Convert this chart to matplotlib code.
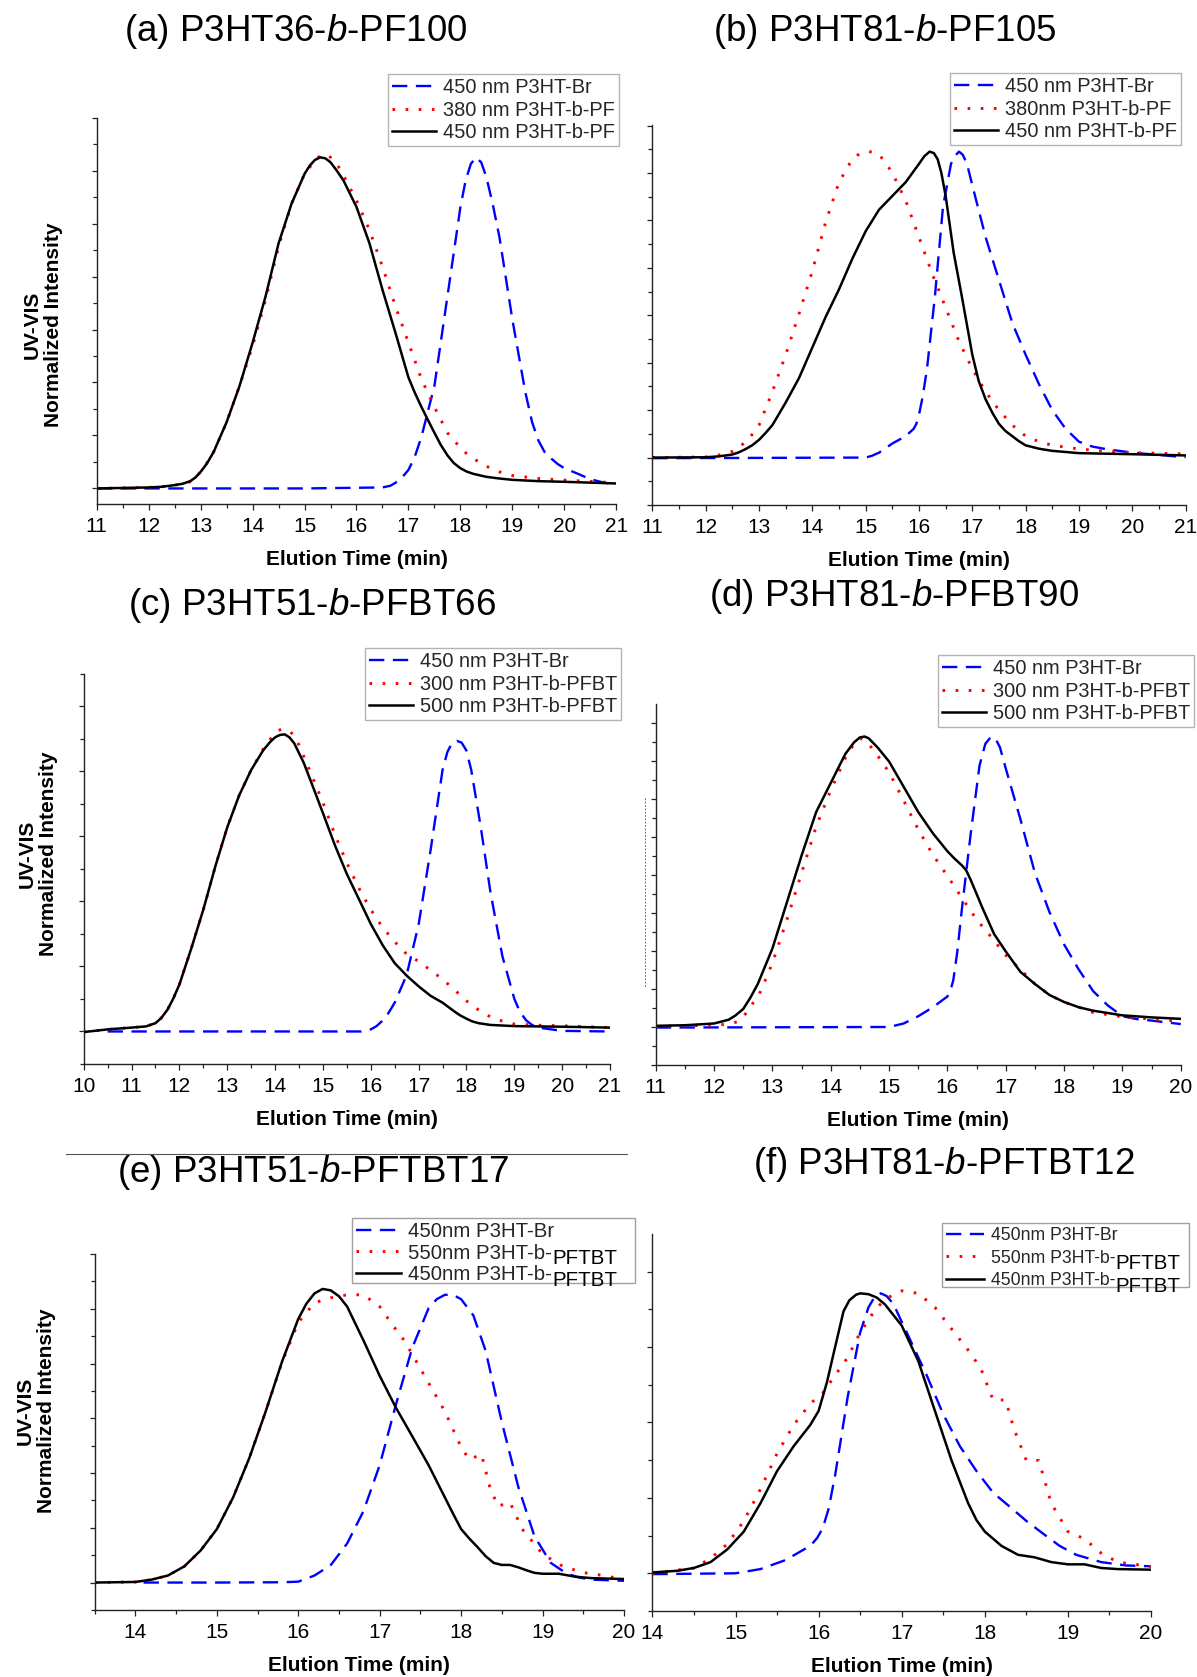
import matplotlib
matplotlib.use("Agg")
import matplotlib.pyplot as plt
from matplotlib.ticker import MultipleLocator, NullFormatter
from matplotlib.lines import Line2D
from matplotlib.patches import Rectangle

plt.rcParams['font.family'] = ['Liberation Sans', 'DejaVu Sans']
plt.rcParams['mathtext.fontset'] = 'custom'
plt.rcParams['mathtext.rm'] = 'Liberation Sans'
plt.rcParams['mathtext.it'] = 'Liberation Sans:italic'

# ---------------- (a) P3HT36-b-PF100 ----------------
a_br_t = [11, 12, 13, 14, 15, 16, 16.5, 16.65, 16.75, 16.87, 17.0, 17.12, 17.25, 17.5, 17.75,
          18.0, 18.1, 18.2, 18.3, 18.4, 18.5, 18.62, 18.75, 19.0, 19.25, 19.38, 19.5, 19.62,
          19.75, 19.87, 20.0, 20.25, 20.5, 20.75, 21]
a_br_i = [0, 0, 0, 0, 0, 0.002, 0.003, 0.008, 0.017, 0.032, 0.056, 0.095, 0.156, 0.31, 0.58,
          0.85, 0.93, 0.98, 1.0, 0.985, 0.94, 0.86, 0.76, 0.51, 0.29, 0.20, 0.145, 0.11, 0.09,
          0.074, 0.061, 0.045, 0.028, 0.018, 0.011]
a_pf380_t = [11, 12, 12.25, 12.5, 12.65, 12.8, 12.9, 13.0, 13.12, 13.25, 13.5, 13.75, 14.0,
             14.25, 14.5, 14.75, 15.0, 15.2, 15.3, 15.4, 15.5, 15.6, 15.7, 15.8, 16.0, 16.25,
             16.5, 16.75, 17.0, 17.25, 17.5, 17.75, 18.0, 18.12, 18.25, 18.5, 18.75, 19.0, 19.5,
             20.0, 21]
a_pf380_i = [0, 0.003, 0.005, 0.01, 0.014, 0.02, 0.032, 0.05, 0.077, 0.11, 0.20, 0.31, 0.43,
             0.57, 0.73, 0.86, 0.95, 0.99, 1.005, 1.01, 1.0, 0.985, 0.96, 0.93, 0.87, 0.78, 0.67,
             0.55, 0.44, 0.33, 0.246, 0.168, 0.123, 0.105, 0.09, 0.067, 0.05, 0.039, 0.03, 0.025,
             0.017]
a_pf450_t = [11, 12, 12.25, 12.5, 12.65, 12.8, 12.9, 13.0, 13.12, 13.25, 13.5, 13.75, 14.0,
             14.25, 14.5, 14.75, 15.0, 15.1, 15.2, 15.3, 15.4, 15.5, 15.62, 15.75, 16.0, 16.25,
             16.5, 16.75, 17.0, 17.12, 17.25, 17.38, 17.5, 17.62, 17.75, 17.87, 18.0, 18.12,
             18.25, 18.5, 18.75, 19.0, 19.5, 20.0, 21]
a_pf450_i = [0, 0.003, 0.005, 0.01, 0.014, 0.022, 0.033, 0.05, 0.075, 0.11, 0.20, 0.31, 0.44,
             0.58, 0.74, 0.86, 0.95, 0.975, 0.992, 1.0, 0.997, 0.985, 0.96, 0.93, 0.85, 0.74,
             0.60, 0.47, 0.335, 0.29, 0.246, 0.205, 0.168, 0.132, 0.10, 0.077, 0.061, 0.051,
             0.044, 0.035, 0.03, 0.026, 0.022, 0.02, 0.015]

# ---------------- (b) P3HT81-b-PF105 ----------------
b_br_t = [11, 13, 15.0, 15.12, 15.25, 15.5, 15.75, 15.9, 15.95, 16.0, 16.07, 16.15, 16.3,
          16.45, 16.6, 16.67, 16.75, 16.82, 16.9, 17.0, 17.25, 17.5, 17.75, 18.0, 18.25, 18.5,
          18.75, 19.0, 19.25, 19.5, 20.0, 21]
b_br_i = [-0.002, -0.001, 0, 0.006, 0.016, 0.046, 0.07, 0.094, 0.11, 0.14, 0.20, 0.29, 0.53,
          0.82, 0.96, 0.985, 1.0, 0.99, 0.96, 0.89, 0.72, 0.58, 0.44, 0.336, 0.24, 0.155,
          0.094, 0.052, 0.036, 0.028, 0.016, 0.001]
b_pf380_t = [11, 12.0, 12.25, 12.5, 12.62, 12.75, 12.87, 13.0, 13.25, 13.5, 13.75, 14.0, 14.25,
             14.5, 14.75, 14.9, 15.05, 15.15, 15.25, 15.37, 15.5, 15.75, 16.0, 16.25, 16.5,
             16.75, 17.0, 17.25, 17.5, 17.75, 18.0, 18.25, 18.5, 19.0, 19.5, 20.0, 21]
b_pf380_i = [0, 0.002, 0.008, 0.02, 0.033, 0.052, 0.075, 0.106, 0.215, 0.336, 0.47, 0.61, 0.77,
             0.90, 0.976, 0.995, 1.0, 0.998, 0.99, 0.965, 0.93, 0.84, 0.72, 0.60, 0.49, 0.38,
             0.29, 0.215, 0.155, 0.106, 0.07, 0.052, 0.04, 0.028, 0.021, 0.016, 0.012]
b_pf450_t = [11, 12.0, 12.25, 12.5, 12.62, 12.75, 12.87, 13.0, 13.12, 13.25, 13.5, 13.75, 14.0,
             14.25, 14.5, 14.75, 15.0, 15.25, 15.5, 15.75, 16.0, 16.1, 16.2, 16.28, 16.35, 16.42,
             16.5, 16.65, 16.8, 17.0, 17.12, 17.25, 17.38, 17.5, 17.62, 17.75, 17.87, 18.0,
             18.25, 18.5, 19.0, 20.0, 21]
b_pf450_i = [0, 0.001, 0.004, 0.01, 0.017, 0.028, 0.04, 0.058, 0.08, 0.106, 0.18, 0.26, 0.36,
             0.46, 0.55, 0.65, 0.74, 0.81, 0.855, 0.90, 0.96, 0.985, 1.0, 0.995, 0.975, 0.93,
             0.855, 0.67, 0.53, 0.336, 0.25, 0.19, 0.145, 0.11, 0.087, 0.07, 0.054, 0.04, 0.029,
             0.022, 0.0145, 0.011, 0.007]

# ---------------- (c) P3HT51-b-PFBT66 ----------------
c_br_t = [10.5, 12, 14, 15.8, 16.0, 16.12, 16.25, 16.37, 16.5, 16.75, 17.0, 17.25, 17.5, 17.6,
          17.7, 17.8, 17.9, 18.0, 18.1, 18.3, 18.5, 18.75, 19.0, 19.12, 19.25, 19.37, 19.5,
          20.0, 21]
c_br_i = [0, 0, 0, 0, 0.007, 0.018, 0.037, 0.062, 0.097, 0.19, 0.36, 0.61, 0.88, 0.94, 0.972,
          0.978, 0.972, 0.945, 0.88, 0.687, 0.47, 0.254, 0.11, 0.065, 0.037, 0.022, 0.013,
          0.002, 0]
c_pf300_t = [10.0, 10.5, 11.0, 11.3, 11.5, 11.62, 11.75, 11.87, 12.0, 12.25, 12.5, 12.75, 13.0,
             13.25, 13.5, 13.75, 13.95, 14.05, 14.15, 14.3, 14.4, 14.5, 14.75, 15.0, 15.25, 15.5,
             15.75, 16.0, 16.25, 16.5, 16.75, 17.0, 17.25, 17.5, 17.75, 18.0, 18.25, 18.5,
             18.75, 19.0, 19.5, 20.0, 21]
c_pf300_i = [-0.002, 0.007, 0.013, 0.017, 0.028, 0.045, 0.073, 0.11, 0.158, 0.28, 0.41, 0.555,
             0.687, 0.795, 0.88, 0.95, 0.995, 1.012, 1.018, 1.012, 0.995, 0.964, 0.868, 0.771,
             0.663, 0.567, 0.483, 0.41, 0.35, 0.302, 0.26, 0.236, 0.206, 0.176, 0.14, 0.103,
             0.073, 0.049, 0.035, 0.025, 0.021, 0.019, 0.013]
c_pf500_t = [10.0, 10.5, 11.0, 11.3, 11.5, 11.62, 11.75, 11.87, 12.0, 12.25, 12.5, 12.75, 13.0,
             13.25, 13.5, 13.75, 13.9, 14.0, 14.1, 14.2, 14.3, 14.4, 14.6, 14.8, 15.0, 15.25,
             15.5, 15.75, 16.0, 16.25, 16.5, 16.75, 17.0, 17.25, 17.5, 17.75, 17.87, 18.0, 18.12,
             18.25, 18.5, 19.0, 20.0, 21]
c_pf500_i = [-0.002, 0.007, 0.013, 0.017, 0.028, 0.045, 0.073, 0.11, 0.158, 0.28, 0.41, 0.555,
             0.687, 0.795, 0.88, 0.946, 0.975, 0.99, 0.998, 1.0, 0.99, 0.97, 0.904, 0.82, 0.735,
             0.627, 0.53, 0.446, 0.362, 0.29, 0.23, 0.188, 0.152, 0.12, 0.097, 0.067, 0.054,
             0.043, 0.034, 0.028, 0.022, 0.018, 0.016, 0.013]

# ---------------- (d) P3HT81-b-PFBT90 ----------------
d_br_t = [11, 13, 15.0, 15.25, 15.5, 15.75, 16.0, 16.05, 16.1, 16.17, 16.25, 16.4, 16.55, 16.65,
          16.75, 16.83, 16.9, 17.0, 17.25, 17.5, 17.75, 18.0, 18.25, 18.5, 18.75, 19.0, 19.25,
          19.5, 20]
d_br_i = [-0.002, -0.001, 0, 0.012, 0.037, 0.068, 0.105, 0.125, 0.16, 0.26, 0.41, 0.667, 0.9,
          0.975, 1.0, 0.99, 0.963, 0.89, 0.716, 0.53, 0.395, 0.284, 0.198, 0.123, 0.074, 0.037,
          0.027, 0.022, 0.01]
d_pf300_t = [11, 12.0, 12.25, 12.4, 12.5, 12.6, 12.8, 13.0, 13.25, 13.5, 13.75, 14.0, 14.25,
             14.4, 14.5, 14.6, 14.75, 15.0, 15.25, 15.5, 15.75, 16.0, 16.25, 16.5, 16.75, 17.0,
             17.25, 17.5, 17.75, 18.0, 18.5, 19.0, 20]
d_pf300_i = [0.002, 0.006, 0.01, 0.018, 0.035, 0.062, 0.123, 0.22, 0.37, 0.53, 0.69, 0.815,
             0.926, 0.975, 0.994, 0.985, 0.95, 0.877, 0.78, 0.68, 0.593, 0.52, 0.444, 0.37, 0.31,
             0.247, 0.198, 0.148, 0.11, 0.086, 0.05, 0.035, 0.019]
d_pf500_t = [11, 11.5, 12.0, 12.25, 12.37, 12.5, 12.62, 12.75, 13.0, 13.25, 13.5, 13.75, 14.0,
             14.25, 14.4, 14.5, 14.58, 14.65, 14.8, 15.0, 15.25, 15.5, 15.75, 16.0, 16.12, 16.25,
             16.32, 16.4, 16.6, 16.8, 17.0, 17.25, 17.5, 17.75, 18.0, 18.25, 18.5, 19.0, 19.5, 20]
d_pf500_i = [0.004, 0.006, 0.012, 0.025, 0.04, 0.062, 0.1, 0.148, 0.27, 0.43, 0.59, 0.74, 0.84,
             0.94, 0.98, 0.997, 1.0, 0.994, 0.963, 0.914, 0.827, 0.74, 0.667, 0.605, 0.58,
             0.556, 0.54, 0.506, 0.41, 0.32, 0.26, 0.19, 0.148, 0.11, 0.086, 0.068, 0.056, 0.04,
             0.033, 0.028]

# ---------------- (e) P3HT51-b-PFTBT17 ----------------
e_br_t = [14.1, 15.0, 15.8, 16.0, 16.2, 16.4, 16.6, 16.8, 17.0, 17.2, 17.4, 17.6, 17.7, 17.8,
          17.9, 18.0, 18.15, 18.3, 18.5, 18.7, 18.9, 19.1, 19.3, 19.45, 19.6, 20]
e_br_i = [0, 0, 0.001, 0.003, 0.024, 0.06, 0.133, 0.243, 0.40, 0.607, 0.80, 0.934, 0.965, 0.98,
          0.98, 0.965, 0.91, 0.79, 0.546, 0.328, 0.158, 0.067, 0.03, 0.017, 0.01, 0.006]
e_pf550_t = [13.5, 14.0, 14.2, 14.4, 14.6, 14.8, 15.0, 15.2, 15.4, 15.6, 15.8, 16.0, 16.2, 16.4,
             16.6, 16.8, 17.0, 17.15, 17.3, 17.4, 17.6, 17.8, 18.0, 18.1, 18.25, 18.35, 18.45,
             18.6, 18.75, 19.0, 19.25, 19.5, 19.75, 20]
e_pf550_i = [0, 0.002, 0.01, 0.024, 0.055, 0.109, 0.182, 0.29, 0.425, 0.583, 0.75, 0.886, 0.953,
             0.97, 0.98, 0.98, 0.94, 0.88, 0.825, 0.777, 0.68, 0.583, 0.461, 0.419, 0.437, 0.328,
             0.26, 0.273, 0.182, 0.097, 0.055, 0.034, 0.024, 0.01]
e_pf450_t = [13.5, 14.0, 14.2, 14.4, 14.6, 14.8, 15.0, 15.2, 15.4, 15.6, 15.8, 16.0, 16.1, 16.2,
             16.3, 16.4, 16.5, 16.6, 16.8, 17.0, 17.2, 17.4, 17.6, 17.8, 17.9, 18.0, 18.1, 18.2,
             18.3, 18.4, 18.5, 18.6, 18.7, 18.8, 18.9, 19.0, 19.2, 19.4, 19.6, 20]
e_pf450_i = [0, 0.002, 0.01, 0.024, 0.055, 0.109, 0.182, 0.29, 0.425, 0.583, 0.752, 0.898,
             0.95, 0.985, 1.0, 0.995, 0.975, 0.94, 0.825, 0.704, 0.595, 0.498, 0.40, 0.29, 0.235,
             0.182, 0.15, 0.121, 0.09, 0.067, 0.06, 0.06, 0.052, 0.042, 0.033, 0.03, 0.03,
             0.02, 0.015, 0.012]

# ---------------- (f) P3HT81-b-PFTBT12 ----------------
f_br_t = [14.0, 15.0, 15.3, 15.6, 15.9, 15.98, 16.05, 16.12, 16.2, 16.35, 16.5, 16.6, 16.68,
          16.75, 16.82, 16.9, 17.1, 17.3, 17.5, 17.7, 17.9, 18.1, 18.3, 18.5, 18.7, 18.9, 19.1,
          19.4, 19.7, 20]
f_br_i = [-0.003, 0, 0.015, 0.047, 0.098, 0.125, 0.161, 0.23, 0.352, 0.63, 0.86, 0.95, 0.99,
          1.0, 0.99, 0.962, 0.835, 0.708, 0.568, 0.454, 0.365, 0.288, 0.238, 0.187, 0.142,
          0.098, 0.066, 0.04, 0.028, 0.025]
f_pf550_t = [14.0, 14.5, 14.7, 14.9, 15.1, 15.3, 15.5, 15.7, 15.9, 16.05, 16.2, 16.35, 16.5,
             16.7, 16.85, 17.0, 17.2, 17.4, 17.6, 17.8, 17.95, 18.1, 18.25, 18.35, 18.5, 18.65,
             18.8, 19.0, 19.2, 19.4, 19.6, 20]
f_pf550_i = [0, 0.019, 0.053, 0.104, 0.187, 0.30, 0.428, 0.53, 0.606, 0.644, 0.708, 0.771,
             0.86, 0.95, 0.987, 1.009, 1.0, 0.95, 0.873, 0.797, 0.733, 0.619, 0.619, 0.517,
             0.403, 0.403, 0.25, 0.149, 0.123, 0.072, 0.04, 0.024]
f_pf450_t = [14.0, 14.3, 14.5, 14.7, 14.9, 15.1, 15.3, 15.5, 15.7, 15.9, 16.0, 16.1, 16.2, 16.3,
             16.37, 16.45, 16.5, 16.6, 16.7, 16.8, 17.0, 17.2, 17.4, 17.6, 17.8, 17.9, 18.0,
             18.2, 18.4, 18.6, 18.8, 19.0, 19.2, 19.4, 19.6, 20]
f_pf450_i = [0.003, 0.009, 0.019, 0.04, 0.085, 0.149, 0.25, 0.365, 0.454, 0.53, 0.58, 0.682,
             0.81, 0.936, 0.975, 0.995, 1.0, 0.997, 0.985, 0.96, 0.885, 0.758, 0.58, 0.403,
             0.25, 0.19, 0.149, 0.098, 0.066, 0.057, 0.04, 0.032, 0.032, 0.019, 0.015, 0.013]

titles = [r"(a) P3HT36-$\mathit{b}$-PF100", r"(b) P3HT81-$\mathit{b}$-PF105",
          r"(c) P3HT51-$\mathit{b}$-PFBT66", r"(d) P3HT81-$\mathit{b}$-PFBT90",
          r"(e) P3HT51-$\mathit{b}$-PFTBT17", r"(f) P3HT81-$\mathit{b}$-PFTBT12"]
labels_a = ["450 nm P3HT-Br", "380 nm P3HT-b-PF", "450 nm P3HT-b-PF"]
labels_b = ["450 nm P3HT-Br", "380nm P3HT-b-PF", "450 nm P3HT-b-PF"]
labels_cd = ["450 nm P3HT-Br", "300 nm P3HT-b-PFBT", "500 nm P3HT-b-PFBT"]
labels_ef = ["450nm P3HT-Br", "550nm P3HT-b-", "450nm P3HT-b-"]
suffix_ef = ["", "PFTBT", "PFTBT"]
x_label = "Elution Time (min)"
y_label = "UV-VIS\nNormalized Intensity"

W, H = 1197, 1677
fig = plt.figure(figsize=(W / 100, H / 100), dpi=100)


def px_axes(left, top, right, bottom):
    return fig.add_axes([left / W, 1 - bottom / H, (right - left) / W, (bottom - top) / H])


BLUE, RED, BLACK = "#0000ff", "#ff0000", "#000000"
LEG_EDGE = "#a0a0a0"


def panel(ax, series, labels, xlim, xticks, ylim, ymajor, legend_xy, ylabel_xy=None,
          leg_size=14.4, leg_space=0.18, frame=True):
    (t1, i1), (t2, i2), (t3, i3) = series
    ax.plot(t1, i1, color=BLUE, lw=1.7, dashes=(6.5, 3.6), label=labels[0])
    ax.plot(t2, i2, color=RED, lw=2.1, linestyle=(0, (0.9, 3.6)), label=labels[1])
    ax.plot(t3, i3, color=BLACK, lw=1.8, label=labels[2])
    ax.set_xlim(*xlim)
    ax.set_ylim(*ylim)
    ax.set_xticks(xticks)
    ax.xaxis.set_minor_locator(MultipleLocator(0.5))
    ax.yaxis.set_major_locator(MultipleLocator(ymajor))
    ax.yaxis.set_minor_locator(MultipleLocator(ymajor / 2))
    ax.yaxis.set_major_formatter(NullFormatter())
    for s in ("top", "right"):
        ax.spines[s].set_visible(False)
    for s in ("left", "bottom"):
        ax.spines[s].set_linewidth(1.0)
        ax.spines[s].set_color("#222222")
    ax.tick_params(which="major", direction="out", length=4.5, width=0.9, labelsize=15,
                   pad=5, color="#222222")
    ax.tick_params(which="minor", direction="out", length=2.6, width=0.9, color="#222222")
    ax.tick_params(axis="y", which="major", length=3.6)
    ax.tick_params(axis="y", which="minor", length=2.6)
    ax.set_xlabel(x_label, fontsize=15, fontweight="bold", labelpad=10)
    if ylabel_xy is not None:
        ax.set_ylabel(y_label, fontsize=15, fontweight="bold", linespacing=1.15,
                      va="center", ha="center")
        ax.yaxis.set_label_coords(*ylabel_xy)
    leg = ax.legend(loc="upper left", bbox_to_anchor=(legend_xy[0] / W, 1 - legend_xy[1] / H),
                    bbox_transform=fig.transFigure, fontsize=leg_size, frameon=frame,
                    fancybox=False, borderpad=0.2, labelspacing=leg_space, handlelength=2.2,
                    handletextpad=0.35, borderaxespad=0.0)
    if frame:
        leg.get_frame().set_edgecolor(LEG_EDGE)
        leg.get_frame().set_linewidth(1.0)
    for txt in leg.get_texts():
        txt.set_color("#262626")
    return leg


ax_a = px_axes(96.7, 117.6, 616.3, 504)
panel(ax_a, [(a_br_t, a_br_i), (a_pf380_t, a_pf380_i), (a_pf450_t, a_pf450_i)], labels_a,
      (11, 21), range(11, 22), (-0.047, 1.12), 0.16, (388, 74), (-0.103, 0.463))

ax_b = px_axes(652.4, 125, 1185.6, 505)
panel(ax_b, [(b_br_t, b_br_i), (b_pf380_t, b_pf380_i), (b_pf450_t, b_pf450_i)], labels_b,
      (11, 21), range(11, 22), (-0.155, 1.087), 0.155, (950, 73))

ax_c = px_axes(83.7, 673.6, 610, 1064)
panel(ax_c, [(c_br_t, c_br_i), (c_pf300_t, c_pf300_i), (c_pf500_t, c_pf500_i)], labels_cd,
      (10, 21), range(10, 22), (-0.1095, 1.2045), 0.219, (365, 648), (-0.087, 0.538))

ax_d = px_axes(655.7, 704, 1180.8, 1065)
panel(ax_d, [(d_br_t, d_br_i), (d_pf300_t, d_pf300_i), (d_pf500_t, d_pf500_i)], labels_cd,
      (11, 20), range(11, 21), (-0.1309, 1.112), 0.1309, (937.6, 655))

ax_e = px_axes(94.7, 1254, 624, 1610)
leg_e = panel(ax_e, [(e_br_t, e_br_i), (e_pf550_t, e_pf550_i), (e_pf450_t, e_pf450_i)],
              labels_ef, (13.5, 20), range(14, 21), (-0.0935, 1.119), 0.1865, (352, 1217.7),
              (-0.112, 0.559), leg_size=14.7, leg_space=0.14, frame=False)

ax_f = px_axes(652.4, 1234, 1151, 1611)
leg_f = panel(ax_f, [(f_br_t, f_br_i), (f_pf550_t, f_pf550_i), (f_pf450_t, f_pf450_i)],
              labels_ef, (14, 20), range(14, 21), (-0.1347, 1.212), 0.2694, (942, 1223.5),
              leg_size=12.7, leg_space=0.32, frame=False)

# frames for the two lower legends (their labels carry a larger, lowered suffix)
for (l, t, r, b) in [(351.7, 1217.7, 634.7, 1283.0), (941.7, 1223.0, 1189.0, 1287.0)]:
    fig.add_artist(Rectangle((l / W, 1 - b / H), (r - l) / W, (b - t) / H,
                             transform=fig.transFigure, fill=False, edgecolor=LEG_EDGE, lw=1.0))

# panel titles
title_pos = [(296, 31.5), (885, 31.5), (312, 606), (894, 597), (313, 1173), (944, 1164)]
for (tx, ty), title in zip(title_pos, titles):
    fig.text(tx / W, 1 - ty / H, title, ha="center", va="center", fontsize=26.5)

# thin separator above panel (e)
fig.add_artist(Line2D([66 / W, 627 / W], [1 - 1154 / H, 1 - 1154 / H], color="#555555", lw=0.8))
# faint dotted mark left of panel (d)
fig.add_artist(Line2D([645 / W, 645 / W], [1 - 798 / H, 1 - 988 / H], color="#444444", lw=0.6,
                      linestyle=(0, (2, 2))))

# append the "PFTBT" suffix after the legend labels of (e) and (f)
fig.canvas.draw()
renderer = fig.canvas.get_renderer()
for leg, drop in [(leg_e, 5.0), (leg_f, 6.7)]:
    for txt, suffix in zip(leg.get_texts(), suffix_ef):
        if not suffix:
            continue
        bb = txt.get_window_extent(renderer)
        prop = txt.get_fontproperties()
        _, _, d_txt = renderer.get_text_width_height_descent(txt.get_text(), prop, ismath=False)
        _, _, d_lp = renderer.get_text_width_height_descent("lp", prop, ismath=False)
        baseline = bb.y0 + max(d_txt, d_lp) - drop
        fig.text(bb.x1 / fig.bbox.width, baseline / fig.bbox.height, suffix,
                 ha="left", va="baseline", fontsize=14.8, color="black")

fig.savefig("out.png", dpi=100)
